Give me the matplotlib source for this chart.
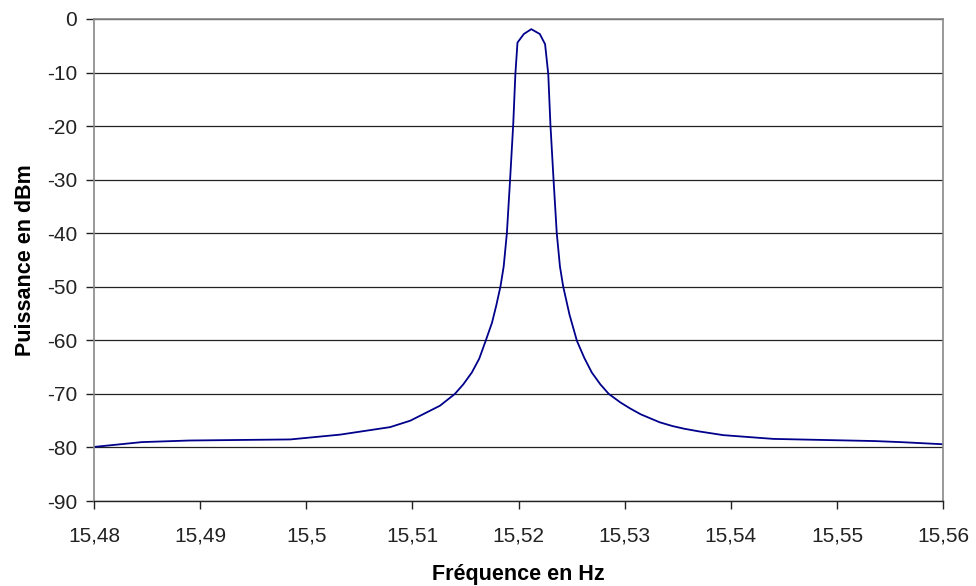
import matplotlib
matplotlib.use('Agg')
import matplotlib.pyplot as plt
from matplotlib.ticker import FuncFormatter, MultipleLocator

# Values
freq = [15.48, 15.4845, 15.489, 15.4985, 15.5032, 15.5079, 15.5098, 15.5106,
        15.5116, 15.5126, 15.514, 15.5148, 15.5156, 15.5163, 15.5169, 15.5175,
        15.5179, 15.5183, 15.5186, 15.5189, 15.5192, 15.5195, 15.5197, 15.5199,
        15.5205, 15.5212, 15.522, 15.5225, 15.5228, 15.523, 15.5233, 15.5236,
        15.5239, 15.5242, 15.5248, 15.5255, 15.5262, 15.5269, 15.5277, 15.5285,
        15.5296, 15.5305, 15.5315, 15.5333, 15.5345, 15.5356, 15.537, 15.5393,
        15.544, 15.5487, 15.5535, 15.556, 15.56]
power = [-79.9, -79.0, -78.7, -78.5, -77.6, -76.2, -75.0, -74.2,
         -73.2, -72.2, -70.0, -68.2, -66.0, -63.4, -60.1, -56.7,
         -53.5, -49.9, -46.2, -40.0, -30.1, -19.6, -10.3, -4.4,
         -2.8, -1.9, -2.8, -4.7, -10.3, -19.6, -30.1, -40.0,
         -46.2, -49.9, -55.2, -60.1, -63.3, -66.0, -68.2, -70.0,
         -71.6, -72.7, -73.8, -75.3, -76.0, -76.5, -77.0, -77.7,
         -78.4, -78.6, -78.8, -79.0, -79.4]

plt.rcParams['font.family'] = ['Liberation Sans', 'DejaVu Sans']

fig = plt.figure(figsize=(9.76, 5.86), dpi=100)
ax = fig.add_axes([0.0963, 0.145, 0.87, 0.8226])

ax.plot(freq, power, color='#00008B', linewidth=1.3)

ax.set_xlim(15.48, 15.56)
ax.set_ylim(-90, 0)
ax.xaxis.set_major_locator(MultipleLocator(0.01))
ax.yaxis.set_major_locator(MultipleLocator(10))

fmt = FuncFormatter(lambda v, pos: f'{v:g}'.replace('.', ','))
ax.xaxis.set_major_formatter(fmt)
ax.yaxis.set_major_formatter(FuncFormatter(lambda v, pos: f'{v:g}'))

ax.grid(True, axis='y', color='#222222', linewidth=0.9)
ax.set_axisbelow(True)

for side in ['left', 'right', 'top']:
    ax.spines[side].set_color('#888888')
    ax.spines[side].set_linewidth(1.2)
ax.spines['bottom'].set_color('#222222')
ax.spines['bottom'].set_linewidth(1.0)

ax.tick_params(axis='both', direction='out', length=5.5, width=1.0,
               labelsize=15, colors='#222222')
ax.tick_params(axis='x', pad=13)
ax.tick_params(axis='y', pad=6.5)

ax.set_xlabel('Fréquence en Hz', fontsize=15.5, fontweight='bold', labelpad=13)
ax.set_ylabel('Puissance en dBm', fontsize=15.5, fontweight='bold', labelpad=8)

fig.savefig('out.png', dpi=100)
